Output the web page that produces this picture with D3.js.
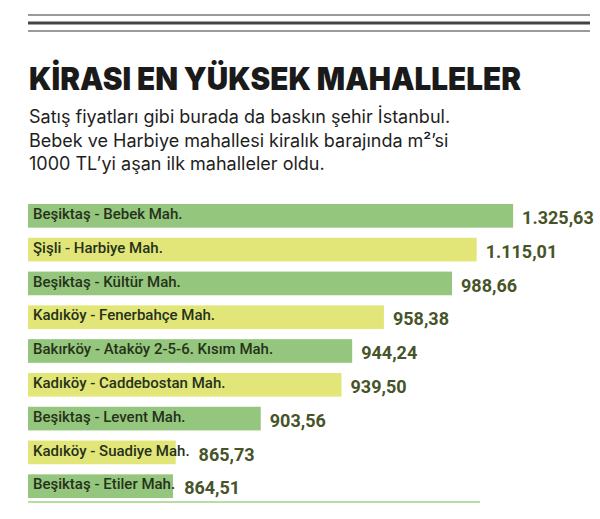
<!DOCTYPE html>
<html>
<head>
<meta charset="utf-8">
<script src="https://cdn.jsdelivr.net/npm/d3@7"></script>
<style>
  body { margin: 0; background: #fff; }
  svg { display: block; }
</style>
</head>
<body>
<div id="grafik"></div>
<script>
// veriler
const mahalleler = [
  "Beşiktaş - Bebek Mah.",
  "Şişli - Harbiye Mah.",
  "Beşiktaş - Kültür Mah.",
  "Kadıköy - Fenerbahçe Mah.",
  "Bakırköy - Ataköy 2-5-6. Kısım Mah.",
  "Kadıköy - Caddebostan Mah.",
  "Beşiktaş - Levent Mah.",
  "Kadıköy - Suadiye Mah.",
  "Beşiktaş - Etiler Mah."
]
const kiraM2 = [1325.63, 1115.01, 988.66, 958.38, 944.24, 939.50, 903.56, 865.73, 864.51]

const baslik = "KİRASI EN YÜKSEK MAHALLELER"
const altBaslik = [
  "Satış fiyatları gibi burada da baskın şehir İstanbul.",
  "Bebek ve Harbiye mahallesi kiralık barajında m²’si",
  "1000 TL’yi aşan ilk mahalleler oldu."
]

const data = mahalleler.map((m, i) => ({ mahalle: m, deger: kiraM2[i] }))

const anchoTotal = 600
const altoTotal = 519
const margins = { left: 28, top: 204, right: 12, bottom: 21 }

const svg = d3.select("#grafik")
  .append("svg")
  .attr("width", anchoTotal)
  .attr("height", altoTotal)

// ust cizgiler
const cizgiler = [
  { y: 15, renk: "#9a9a9a", k: 2 },
  { y: 23, renk: "#444", k: 3 },
  { y: 31, renk: "#9a9a9a", k: 2 }
]
svg.append("g")
  .selectAll("line")
  .data(cizgiler)
  .join("line")
  .attr("x1", 28).attr("x2", 590)
  .attr("y1", d => d.y).attr("y2", d => d.y)
  .attr("stroke", d => d.renk)
  .attr("stroke-width", d => d.k)

// baslik
svg.append("text")
  .attr("x", 29)
  .attr("y", 90)
  .attr("font-family", "Inter, 'Noto Sans', sans-serif")
  .attr("font-weight", 900)
  .attr("font-size", 31)
  .attr("fill", "#1a1a1a")
  .attr("textLength", 492)
  .attr("lengthAdjust", "spacingAndGlyphs")
  .text(baslik)

svg.append("g")
  .selectAll("text")
  .data(altBaslik)
  .join("text")
  .attr("x", 29)
  .attr("y", (d, i) => 123 + i * 23.5)
  .attr("font-family", "Inter, 'Noto Sans', sans-serif")
  .attr("font-size", 18)
  .attr("fill", "#1e1e1e")
  .text(d => d)

// olcekler: ust kisim sikistirilmis (kirik eksen)
const x = d3.scaleLinear()
  .domain([800, 990, 1400])
  .range([0, 427, 498])

const y = d3.scaleBand()
  .domain(mahalleler)
  .range([margins.top, 498])
  .paddingInner(0.3)
  .paddingOuter(0)

const renk = d3.scaleOrdinal()
  .domain([0, 1])
  .range(["#95c67e", "#e2e679"])

const trFormat = d3.formatLocale({ decimal: ",", thousands: ".", grouping: [3], currency: ["", " TL"] }).format(",.2f")

const g = svg.append("g").attr("transform", `translate(${margins.left}, 0)`)

g.selectAll("rect")
  .data(data)
  .join("rect")
  .attr("x", 0)
  .attr("y", d => y(d.mahalle))
  .attr("width", d => x(d.deger))
  .attr("height", y.bandwidth())
  .attr("fill", (d, i) => renk(i % 2))

const etiketler = g.append("g")
  .selectAll("text")
  .data(data)
  .join("text")
  .attr("x", 5)
  .attr("y", d => y(d.mahalle) + 15)
  .attr("font-family", "Roboto, sans-serif")
  .attr("font-weight", 500)
  .attr("font-size", 15)
  .attr("fill", "#26321a")
  .text(d => d.mahalle)

// deger etiketleri, cubuk ya da etiket bitiminden sonra
const sonlar = etiketler.nodes().map(n => 5 + n.getComputedTextLength())

g.append("g")
  .selectAll("text")
  .data(data)
  .join("text")
  .attr("x", (d, i) => Math.max(x(d.deger), sonlar[i]) + 9)
  .attr("y", d => y(d.mahalle) + 20)
  .attr("font-family", "Roboto, sans-serif")
  .attr("font-weight", 700)
  .attr("font-size", 18)
  .attr("fill", "#475429")
  .text(d => trFormat(d.deger))

// alt cizgi
g.append("line")
  .attr("x1", 0).attr("x2", 452)
  .attr("y1", 502).attr("y2", 502)
  .attr("stroke", "#b8dca2")
  .attr("stroke-width", 2)
</script>
</body>
</html>
